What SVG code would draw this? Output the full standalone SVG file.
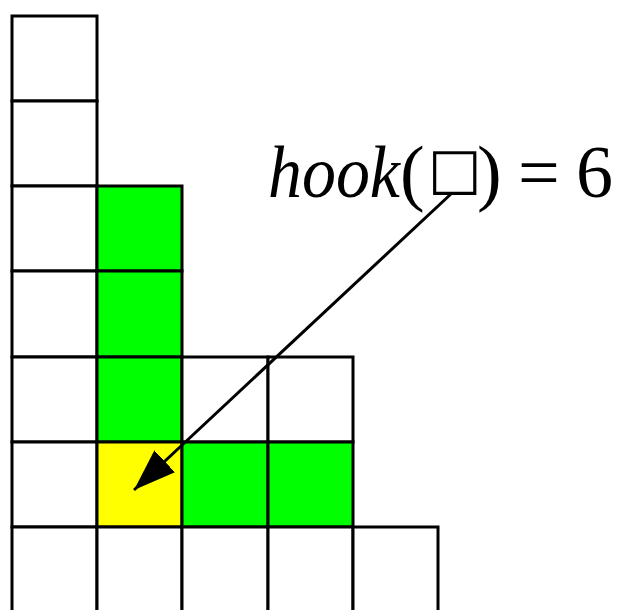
<svg xmlns="http://www.w3.org/2000/svg" width="624" height="610" viewBox="0 0 624 610">
<style>
.c{stroke:#000;stroke-width:3;fill:#fff}
.g{fill:#00ff00}
.y{fill:#ffff00}
.t{font-family:"Liberation Serif",serif;font-size:74px;fill:#000}
</style>
<defs>
<marker id="ah" markerUnits="userSpaceOnUse" markerWidth="44" markerHeight="32" refX="42" refY="15" orient="auto">
<path d="M0,0 L42,15 L0,30 Z" fill="#000"/>
</marker>
</defs>
<g id="col1">
<rect class="c" x="12" y="16" width="85" height="85"/>
<rect class="c" x="12" y="101" width="85" height="85"/>
<rect class="c" x="12" y="186" width="85" height="85"/>
<rect class="c" x="12" y="271" width="85" height="86"/>
<rect class="c" x="12" y="357" width="85" height="85"/>
<rect class="c" x="12" y="442" width="85" height="85"/>
<rect class="c" x="12" y="527" width="85" height="90"/>
</g>
<g id="col2">
<rect class="c g" x="97" y="186" width="85" height="85"/>
<rect class="c g" x="97" y="271" width="85" height="86"/>
<rect class="c g" x="97" y="357" width="85" height="85"/>
<rect class="c y" x="97" y="442" width="85" height="85"/>
<rect class="c" x="97" y="527" width="85" height="90"/>
</g>
<g id="col3">
<rect class="c" x="182" y="357" width="86" height="85"/>
<rect class="c g" x="182" y="442" width="86" height="85"/>
<rect class="c" x="182" y="527" width="86" height="90"/>
</g>
<g id="col4">
<rect class="c" x="268" y="357" width="85" height="85"/>
<rect class="c g" x="268" y="442" width="85" height="85"/>
<rect class="c" x="268" y="527" width="85" height="90"/>
</g>
<g id="col5">
<rect class="c" x="353" y="527" width="85" height="90"/>
</g>
<g id="connectors">
<line x1="452" y1="193" x2="134" y2="490" stroke="#000" stroke-width="3" marker-end="url(#ah)"/>
</g>
<g id="label">
<text class="t"><tspan x="268" y="197" font-style="italic" textLength="132" lengthAdjust="spacingAndGlyphs">hook</tspan><tspan x="400" y="197">(</tspan><tspan x="428" y="188" font-family="DejaVu Sans" font-size="57">□</tspan><tspan x="477" y="197">)</tspan><tspan x="518" y="197">=</tspan><tspan x="576" y="197">6</tspan></text>
</g>
</svg>
